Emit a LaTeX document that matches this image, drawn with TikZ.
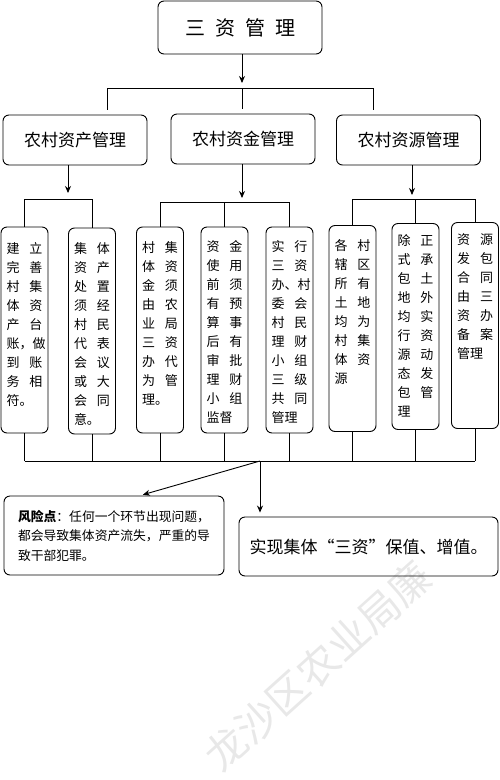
\documentclass[tikz,border=0pt]{standalone}
\usepackage{fontspec}
\setmainfont{Noto Sans CJK SC}
\usetikzlibrary{positioning,arrows.meta}

\newcommand{\rw}[2]{\makebox[36pt][l]{#1\hfill#2}}

\tikzset{
  box/.style={draw, rounded corners=6pt, inner sep=0pt},
  colbox/.style={box, minimum width=47pt, minimum height=206pt},
  coltext/.style={inner sep=0pt, align=left, font=\fontsize{13}{19}\selectfont},
}

\begin{document}
\begin{tikzpicture}[x=1pt, y=-1pt, >={Stealth[length=7pt,width=6pt]}, line width=0.9pt]
    \useasboundingbox (0,0) rectangle (500,780);

    % watermark
    \node[rotate=42, text=gray!18, font=\fontsize{41}{41}\selectfont] (wm) at (318,666) {龙沙区农业局廉};

    \node[box, minimum width=164pt, minimum height=53pt, font=\fontsize{20}{20}\selectfont] (top) at (240,27.5) {三\hspace{10pt}资\hspace{10pt}管\hspace{10pt}理};

    \node[box, minimum width=144pt, minimum height=50pt, font=\fontsize{17}{17}\selectfont] (asset) at (75,140) {农村资产管理};
    \node[box, minimum width=144pt, minimum height=50pt, font=\fontsize{17}{17}\selectfont] (fund) at (243,139) {农村资金管理};
    \node[box, minimum width=144pt, minimum height=50pt, font=\fontsize{17}{17}\selectfont] (res) at (408.5,140) {农村资源管理};

    \coordinate (hub) at (242,88);
    \coordinate (tl) at (107,88);
    \coordinate (tr) at (373,88);
    \draw[->, shorten >=5pt] (hub |- top.south) -- (hub);
    \draw (tl) -- (tr);
    \draw[shorten >=5pt] (tl) -- (tl |- asset.north);
    \draw[shorten >=5pt] (hub) -- (hub |- fund.north);
    \draw[shorten >=5pt] (tr) -- (tr |- res.north);

    % columns
    \node[colbox] (c1) at (24.5,330) {};
    \node[colbox] (c2) at (92,331) {};
    \node[colbox] (c3) at (160,330) {};
    \node[colbox] (c4) at (224.5,330) {};
    \node[colbox] (c5) at (289.5,330) {};
    \node[colbox] (c6) at (352.5,328.5) {};
    \node[colbox] (c7) at (415.5,326.5) {};
    \node[colbox] (c8) at (475,325.5) {};

    \node[coltext, below=15pt of c1.north] (t1) {\rw{建}{立}\\\rw{完}{善}\\\rw{村}{集}\\\rw{体}{资}\\\rw{产}{台}\\\rw{账，}{做}\\\rw{到}{账}\\\rw{务}{相}\\符。};
    \node[coltext, below=15pt of c2.north] (t2) {\rw{集}{体}\\\rw{资}{产}\\\rw{处}{置}\\\rw{须}{经}\\\rw{村}{民}\\\rw{代}{表}\\\rw{会}{议}\\\rw{或}{大}\\\rw{会}{同}\\意。};
    \node[coltext, below=15pt of c3.north] (t3) {\rw{村}{集}\\\rw{体}{资}\\\rw{金}{须}\\\rw{由}{农}\\\rw{业}{局}\\\rw{三}{资}\\\rw{办}{代}\\\rw{为}{管}\\理。};
    \node[coltext, below=13pt of c4.north] (t4) {\rw{资}{金}\\\rw{使}{用}\\\rw{前}{须}\\\rw{有}{预}\\\rw{算}{事}\\\rw{后}{有}\\\rw{审}{批}\\\rw{理}{财}\\\rw{小}{组}\\监督};
    \node[coltext, below=13pt of c5.north] (t5) {\rw{实}{行}\\\rw{三}{资}\\\rw{办、}{村}\\\rw{委}{会}\\\rw{村}{民}\\\rw{理}{财}\\\rw{小}{组}\\\rw{三}{级}\\\rw{共}{同}\\管理};
    \node[coltext, below=14pt of c6.north] (t6) {\rw{各}{村}\\\rw{辖}{区}\\\rw{所}{有}\\\rw{土}{地}\\\rw{均}{为}\\\rw{村}{集}\\\rw{体}{资}\\源};
    \node[coltext, below=11pt of c7.north] (t7) {\rw{除}{正}\\\rw{式}{承}\\\rw{包}{土}\\\rw{地}{外}\\\rw{均}{实}\\\rw{行}{资}\\\rw{源}{动}\\\rw{态}{发}\\\rw{包}{管}\\理};
    \node[coltext, below=11pt of c8.north] (t8) {\rw{资}{源}\\\rw{发}{包}\\\rw{合}{同}\\\rw{由}{三}\\\rw{资}{办}\\\rw{备}{案}\\管理};

    % group lines
    \coordinate (g1) at (68,199);
    \coordinate (g2) at (242,202);
    \coordinate (g3) at (412,199);
    \draw[->, shorten >=6pt] (g1 |- asset.south) -- (g1);
    \draw[->, shorten >=4pt] (g2 |- fund.south) -- (g2);
    \draw[->, shorten >=4pt] (g3 |- res.south) -- (g3);
    \draw (c1.north |- g1) -- (c2.north |- g1);
    \draw (c3.north |- g2) -- (c5.north |- g2);
    \draw (c6.north |- g3) -- (c8.north |- g3);
    \foreach \i in {1,2} \draw (c\i.north |- g1) -- (c\i.north);
    \foreach \i in {3,4,5} \draw (c\i.north |- g2) -- (c\i.north);
    \foreach \i in {6,7,8} \draw (c\i.north |- g3) -- (c\i.north);

    % bottom
    \coordinate (base) at (260,461);
    \draw (c1.south |- base) -- (c8.south |- base);
    \foreach \i in {1,...,8} \draw (c\i.south) -- (c\i.south |- base);

    \node[box, minimum width=220pt, minimum height=79pt, align=left, font=\fontsize{12.8}{19.5}\selectfont] (risk) at (114,535.5) {\textbf{风险点}：任何一个环节出现问题，\\都会导致集体资产流失，严重的导\\致干部犯罪。};
    \node[box, minimum width=259pt, minimum height=59pt, font=\fontsize{17}{17}\selectfont] (goal) at (368.5,546.5) {实现集体“三资”保值、增值。};

    \draw[->, shorten >=3pt] (base) -- ([xshift=26pt]risk.north);
    \draw[->, shorten >=4pt] (base) -- (base |- goal.north);
\end{tikzpicture}
\end{document}
